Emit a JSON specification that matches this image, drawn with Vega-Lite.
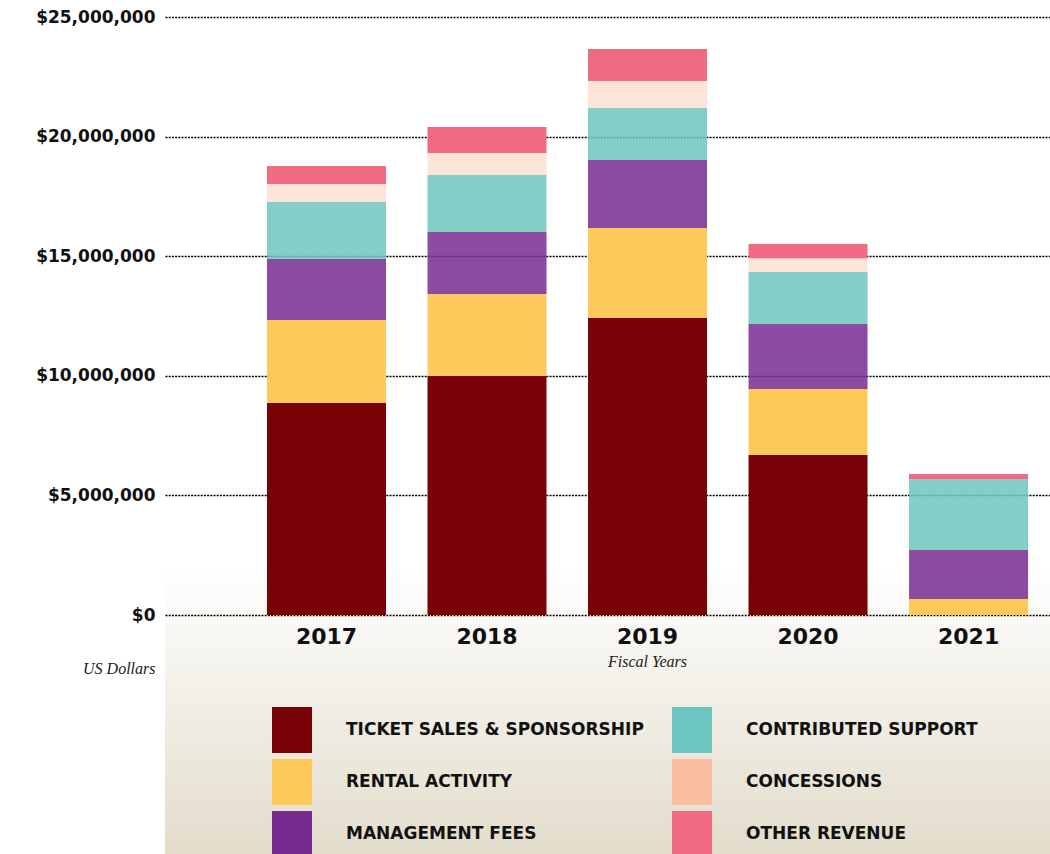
{
  "$schema": "https://vega.github.io/schema/vega-lite/v6.json",
  "width": 885,
  "height": 837,
  "autosize": {"type": "none"},
  "padding": {"left": 165, "top": 17, "right": 0, "bottom": 0},
  "background": "white",
  "config": {
    "view": {
      "stroke": null,
      "fill": {
        "gradient": "linear",
        "x1": 0, "y1": 0, "x2": 0, "y2": 1,
        "stops": [
          {"offset": 0, "color": "#ffffff"},
          {"offset": 0.655, "color": "#ffffff"},
          {"offset": 1, "color": "#e2dccb"}
        ]
      }
    }
  },
  "data": {
    "values": [
      {"year": "2017", "category": "TICKET SALES & SPONSORSHIP", "amount": 8860000},
      {"year": "2017", "category": "RENTAL ACTIVITY", "amount": 3470000},
      {"year": "2017", "category": "MANAGEMENT FEES", "amount": 2550000},
      {"year": "2017", "category": "CONTRIBUTED SUPPORT", "amount": 2390000},
      {"year": "2017", "category": "CONCESSIONS", "amount": 750000},
      {"year": "2017", "category": "OTHER REVENUE", "amount": 750000},
      {"year": "2018", "category": "TICKET SALES & SPONSORSHIP", "amount": 9990000},
      {"year": "2018", "category": "RENTAL ACTIVITY", "amount": 3430000},
      {"year": "2018", "category": "MANAGEMENT FEES", "amount": 2590000},
      {"year": "2018", "category": "CONTRIBUTED SUPPORT", "amount": 2380000},
      {"year": "2018", "category": "CONCESSIONS", "amount": 920000},
      {"year": "2018", "category": "OTHER REVENUE", "amount": 1090000},
      {"year": "2019", "category": "TICKET SALES & SPONSORSHIP", "amount": 12420000},
      {"year": "2019", "category": "RENTAL ACTIVITY", "amount": 3760000},
      {"year": "2019", "category": "MANAGEMENT FEES", "amount": 2840000},
      {"year": "2019", "category": "CONTRIBUTED SUPPORT", "amount": 2180000},
      {"year": "2019", "category": "CONCESSIONS", "amount": 1120000},
      {"year": "2019", "category": "OTHER REVENUE", "amount": 1340000},
      {"year": "2020", "category": "TICKET SALES & SPONSORSHIP", "amount": 6690000},
      {"year": "2020", "category": "RENTAL ACTIVITY", "amount": 2760000},
      {"year": "2020", "category": "MANAGEMENT FEES", "amount": 2720000},
      {"year": "2020", "category": "CONTRIBUTED SUPPORT", "amount": 2170000},
      {"year": "2020", "category": "CONCESSIONS", "amount": 570000},
      {"year": "2020", "category": "OTHER REVENUE", "amount": 600000},
      {"year": "2021", "category": "TICKET SALES & SPONSORSHIP", "amount": 0},
      {"year": "2021", "category": "RENTAL ACTIVITY", "amount": 670000},
      {"year": "2021", "category": "MANAGEMENT FEES", "amount": 2050000},
      {"year": "2021", "category": "CONTRIBUTED SUPPORT", "amount": 2950000},
      {"year": "2021", "category": "CONCESSIONS", "amount": 0},
      {"year": "2021", "category": "OTHER REVENUE", "amount": 220000}
    ]
  },
  "mark": {"type": "bar"},
  "encoding": {
    "x": {
      "field": "year",
      "type": "nominal",
      "scale": {"paddingInner": 0.2586, "paddingOuter": 0.386, "align": 0.823},
      "axis": {
        "offset": -239,
        "domain": false,
        "ticks": false,
        "labelAngle": 0,
        "labelPadding": 11,
        "labelFont": "DejaVu Sans",
        "labelFontSize": 22,
        "labelFontWeight": "bold",
        "labelColor": "#111111",
        "title": "Fiscal Years",
        "titleX": 482,
        "titleY": 46,
        "titleAlign": "center",
        "titleBaseline": "middle",
        "titleFont": "Liberation Serif",
        "titleFontStyle": "italic",
        "titleFontWeight": "normal",
        "titleFontSize": 16,
        "titleColor": "#222222"
      }
    },
    "y": {
      "field": "amount",
      "type": "quantitative",
      "stack": "zero",
      "scale": {"domain": [0, 25000000], "range": [598, 0], "nice": false},
      "axis": {
        "values": [0, 5000000, 10000000, 15000000, 20000000, 25000000],
        "labelExpr": "'$' + format(datum.value, ',')",
        "domain": false,
        "ticks": false,
        "grid": true,
        "gridColor": "#000000",
        "gridDash": [2, 1.2],
        "gridWidth": 1.6,
        "labelPadding": 10,
        "labelFont": "DejaVu Sans",
        "labelFontSize": 17,
        "labelFontWeight": "bold",
        "labelColor": "#111111",
        "title": "US Dollars",
        "titleAngle": 0,
        "titleX": -10,
        "titleY": 651,
        "titleAlign": "right",
        "titleBaseline": "middle",
        "titleFont": "Liberation Serif",
        "titleFontStyle": "italic",
        "titleFontWeight": "normal",
        "titleFontSize": 16,
        "titleColor": "#222222"
      }
    },
    "color": {
      "field": "category",
      "type": "nominal",
      "sort": ["TICKET SALES & SPONSORSHIP", "RENTAL ACTIVITY", "MANAGEMENT FEES", "CONTRIBUTED SUPPORT", "CONCESSIONS", "OTHER REVENUE"],
      "scale": {
        "domain": ["TICKET SALES & SPONSORSHIP", "RENTAL ACTIVITY", "MANAGEMENT FEES", "CONTRIBUTED SUPPORT", "CONCESSIONS", "OTHER REVENUE"],
        "range": ["#790206", "#fec95b", "#772b8f", "#6cc5be", "#f9bea1", "#f06b82"]
      },
      "legend": {
        "orient": "none",
        "legendX": 104,
        "legendY": 690,
        "columns": 2,
        "title": null,
        "padding": 0,
        "symbolType": "M-0.87,-1H0.87V1H-0.87Z",
        "symbolSize": 2116,
        "symbolStrokeWidth": 0,
        "symbolOpacity": 1,
        "labelFont": "DejaVu Sans",
        "labelFontSize": 17,
        "labelFontWeight": "bold",
        "labelColor": "#111111",
        "labelOffset": 31,
        "labelLimit": 500,
        "rowPadding": 6,
        "columnPadding": 25,
        "zindex": 1,
        "encode": {
          "symbols": {"update": {"opacity": {"value": 1}, "fillOpacity": {"value": 1}}}
        }
      }
    },
    "fillOpacity": {
      "field": "category",
      "type": "nominal",
      "scale": {
        "type": "ordinal",
        "domain": ["TICKET SALES & SPONSORSHIP", "RENTAL ACTIVITY", "MANAGEMENT FEES", "CONTRIBUTED SUPPORT", "CONCESSIONS", "OTHER REVENUE"],
        "range": [1, 1, 0.85, 0.84, 0.42, 1]
      },
      "legend": null
    },
    "order": {"field": "color_category_sort_index", "type": "quantitative", "sort": "ascending"}
  }
}
